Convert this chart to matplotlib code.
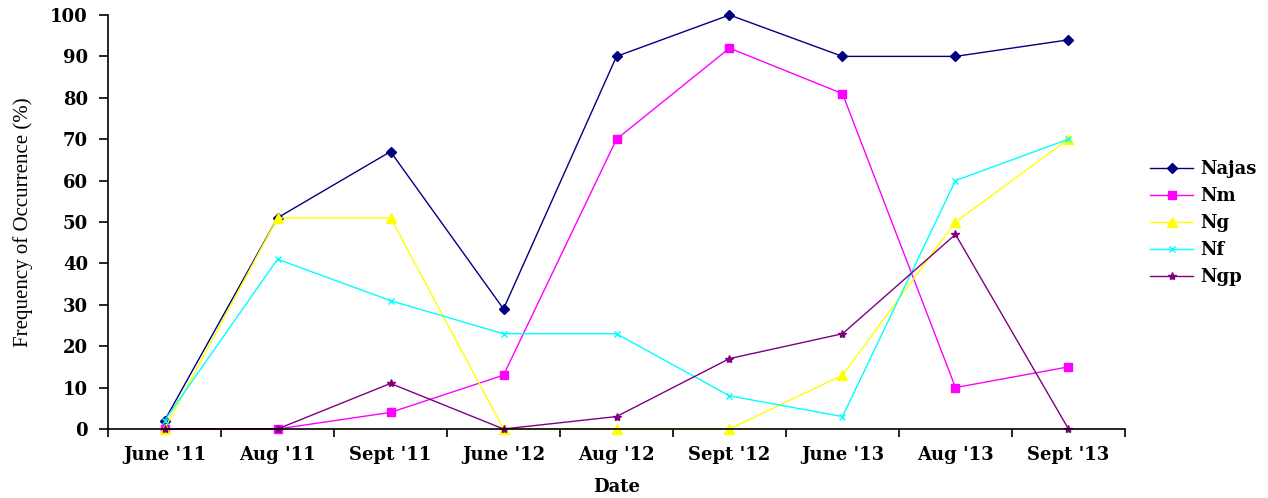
import numpy as np
import matplotlib.pyplot as plt
from matplotlib.ticker import FixedLocator

dates = ["June '11", "Aug '11", "Sept '11", "June '12", "Aug '12",
         "Sept '12", "June '13", "Aug '13", "Sept '13"]
najas = [2, 51, 67, 29, 90, 100, 90, 90, 94]
nm = [0, 0, 4, 13, 70, 92, 81, 10, 15]
ng = [0, 51, 51, 0, 0, 0, 13, 50, 70]
nf = [2, 41, 31, 23, 23, 8, 3, 60, 70]
ngp = [0, 0, 11, 0, 3, 17, 23, 47, 0]

plt.rcParams['font.family'] = ['DejaVu Serif']
bold = {'family': 'DejaVu Serif', 'weight': 'bold', 'size': 13}

fig = plt.figure(figsize=(12.68, 4.98), dpi=100)
ax = fig.add_axes([0.0852, 0.1386, 0.8020, 0.8313])

x = np.arange(len(dates))
ax.plot(x, najas, color='#000080', marker='D', ms=5, lw=1, label='Najas')
ax.plot(x, nm, color='#FF00FF', marker='s', ms=6, lw=1, label='Nm')
ax.plot(x, ng, color='#FFFF00', marker='^', ms=7, lw=1, label='Ng')
ax.plot(x, nf, color='#00FFFF', marker='x', ms=5, lw=1, label='Nf')
ax.plot(x, ngp, color='#800080', marker='*', ms=6, lw=1, label='Ngp')

ax.set_xlim(-0.5, len(dates) - 0.5)
ax.set_ylim(0, 100)
ax.set_yticks(range(0, 101, 10))
ax.xaxis.set_major_locator(FixedLocator(np.arange(-0.5, len(dates), 1.0)))
ax.xaxis.set_major_formatter(plt.NullFormatter())
ax.xaxis.set_minor_locator(FixedLocator(x))
ax.set_xticklabels(dates, minor=True)
ax.tick_params(axis='x', which='minor', length=0, pad=12)
ax.tick_params(axis='x', which='major', length=6, width=1.2, direction='out')
ax.tick_params(axis='y', length=6.5, width=1.2, direction='out', pad=8)
for lab in ax.get_xticklabels(minor=True) + ax.get_yticklabels():
    lab.set_fontproperties(bold)

ax.spines['top'].set_visible(False)
ax.spines['right'].set_visible(False)
ax.spines['left'].set_linewidth(1.2)
ax.spines['bottom'].set_linewidth(1.2)
for ln in ax.lines:
    ln.set_clip_on(False)

ax.set_xlabel('Date', fontdict=bold, labelpad=10)
ax.set_ylabel('Frequency of Occurrence (%)', family='Liberation Serif',
              fontsize=15, labelpad=12)

leg = ax.legend(loc='center left', bbox_to_anchor=(1150 / 1268, 1 - 223 / 498),
                bbox_transform=fig.transFigure, frameon=False, prop=bold,
                handlelength=2.4, handletextpad=0.4, labelspacing=0.5,
                borderaxespad=0, borderpad=0)

plt.savefig('out.png', dpi=100)
